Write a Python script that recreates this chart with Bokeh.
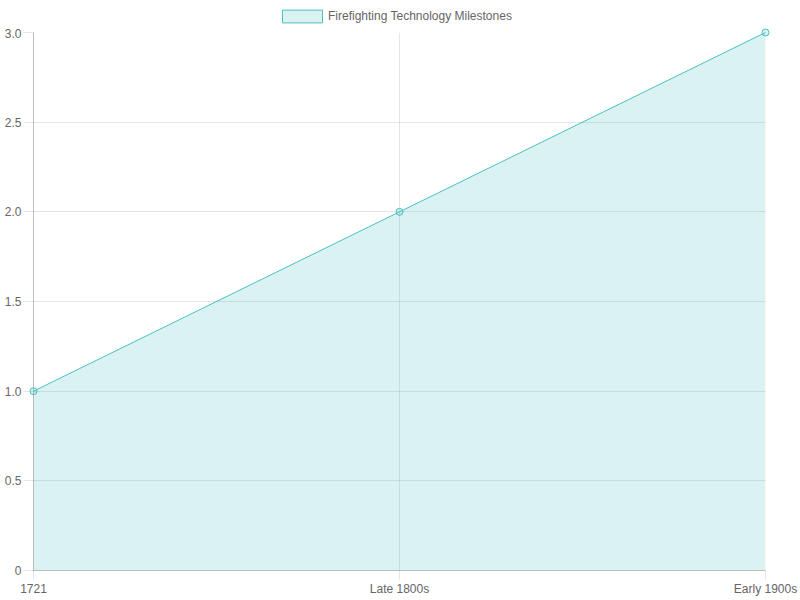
from bokeh.plotting import figure
from bokeh.layouts import column
from bokeh.models import Range1d, FixedTicker, Legend, LegendItem, ColumnDataSource
from bokeh.embed import file_html
from bokeh.resources import INLINE

categories = ["1721", "Late 1800s", "Early 1900s"]
values = [1, 2, 3]
series_name = "Firefighting Technology Milestones"
y_ticks = [0, 0.5, 1, 1.5, 2, 2.5, 3]
y_tick_labels = ["0", "0.5", "1.0", "1.5", "2.0", "2.5", "3.0"]
y_max = 3

LINE = "#4bc0c0"
FILL = "rgba(75,192,192,0.2)"
GRID = "rgba(0,0,0,0.1)"
AXIS = "rgba(0,0,0,0.25)"
FONT = "Liberation Sans"
TXT = "#666666"

W = 800
LEG_H = 28
MAIN_H = 572

xs = list(range(len(categories)))
x_span = len(categories) - 1

src = ColumnDataSource(dict(x=xs, y=values, base=[0] * len(values)))

# ---- legend strip above the chart (its ranges keep the series itself out of view) ----
lg = figure(width=W, height=LEG_H, output_backend="svg", toolbar_location=None,
            x_range=Range1d(100, 101), y_range=Range1d(100, 101),
            x_axis_location=None, y_axis_location=None,
            min_border=0, min_border_left=0, min_border_right=0,
            min_border_top=0, min_border_bottom=0)
lg.outline_line_color = None
lg.xgrid.visible = False
lg.ygrid.visible = False
swatch = lg.quad(left="x", right="x", top="y", bottom="base", source=src,
                 fill_color=FILL, line_color=LINE, line_width=1)
legend = Legend(items=[LegendItem(label=series_name, renderers=[swatch])],
                location=(244, 4), orientation="horizontal",
                glyph_width=50, glyph_height=16, label_height=16, label_standoff=1,
                padding=0, margin=0, spacing=0,
                border_line_color=None, background_fill_alpha=0,
                label_text_font=FONT, label_text_font_size="12px", label_text_color=TXT)
lg.add_layout(legend, "center")

# ---- main chart ----
p = figure(width=W, height=MAIN_H, output_backend="svg", toolbar_location=None,
           x_range=Range1d(0, x_span), y_range=Range1d(0, y_max),
           min_border_left=33, min_border_right=35,
           min_border_top=4, min_border_bottom=30)
p.outline_line_color = None
p.background_fill_color = "white"
p.border_fill_color = "white"

p.varea(x="x", y1="base", y2="y", source=src, fill_color=FILL)
p.line(x="x", y="y", source=src, line_color=LINE, line_width=1, level="overlay")
p.scatter(x="x", y="y", source=src, size=7, marker="circle", line_color=LINE,
          fill_color=FILL, line_width=1, level="overlay")

p.xaxis.ticker = FixedTicker(ticks=xs)
p.xaxis.major_label_overrides = {i: c for i, c in zip(xs, categories)}
p.yaxis.ticker = FixedTicker(ticks=y_ticks)
p.yaxis.major_label_overrides = {t: l for t, l in zip(y_ticks, y_tick_labels)}

p.xgrid.ticker = FixedTicker(ticks=xs)
p.ygrid.ticker = FixedTicker(ticks=y_ticks)
for g in (p.xgrid, p.ygrid):
    g.grid_line_color = GRID
    g.grid_line_width = 1

for ax in (p.xaxis, p.yaxis):
    ax.axis_line_color = AXIS
    ax.major_tick_line_color = GRID
    ax.minor_tick_line_color = None
    ax.major_tick_in = 0
    ax.major_label_text_font = FONT
    ax.major_label_text_font_size = "12px"
    ax.major_label_text_color = TXT
p.yaxis.major_tick_out = 10
p.yaxis.major_label_standoff = 2
p.xaxis.major_tick_out = 9
p.xaxis.major_label_standoff = 2

layout = column(lg, p, spacing=0)
open("out.html", "w").write(file_html(layout, INLINE))
